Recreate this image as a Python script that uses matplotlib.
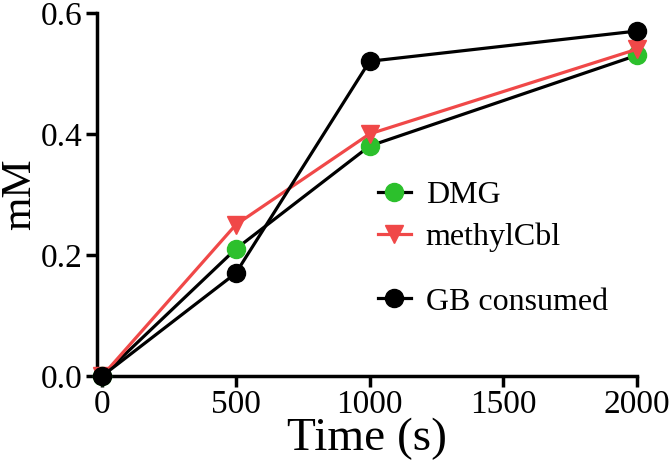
import matplotlib
matplotlib.use("Agg")
import matplotlib.pyplot as plt
from matplotlib.ticker import FormatStrFormatter

time_s = [0, 500, 1000, 2000]
dmg = [0.0, 0.21, 0.38, 0.53]
methylcbl = [0.0, 0.25, 0.40, 0.54]
gb_consumed = [0.0, 0.17, 0.52, 0.57]
x_ticks = [0, 500, 1000, 1500, 2000]
y_ticks = [0.0, 0.2, 0.4, 0.6]

plt.rcParams['font.family'] = ['Liberation Serif', 'DejaVu Serif']

fig = plt.figure(figsize=(6.72, 4.76), dpi=100)
ax = fig.add_axes([0.144, 0.21, 0.804, 0.763])

green = '#2CC02C'
red = '#F04848'

l1, = ax.plot(time_s, dmg, color='black', lw=2.3, marker='o', ms=13,
              mfc=green, mec=green, label='DMG', clip_on=False, zorder=3)
l2, = ax.plot(time_s, methylcbl, color=red, lw=2.3, marker='v', ms=13,
              mfc=red, mec=red, label='methylCbl', clip_on=False, zorder=4)
l3, = ax.plot(time_s, gb_consumed, color='black', lw=2.3, marker='o', ms=13,
              mfc='black', mec='black', label='GB consumed', clip_on=False, zorder=5)

ax.set_xlim(-20, 2000)
ax.set_ylim(0, 0.6)
ax.set_xticks(x_ticks)
ax.set_yticks(y_ticks)
ax.yaxis.set_major_formatter(FormatStrFormatter('%.1f'))

for s in ['top', 'right']:
    ax.spines[s].set_visible(False)
for s in ['left', 'bottom']:
    ax.spines[s].set_linewidth(2.5)
ax.tick_params(axis='both', direction='out', length=8, width=2.5,
               labelsize=24, pad=2)

ax.set_xlabel('Time (s)', fontsize=34, labelpad=-2)
ax.set_ylabel('mM', fontsize=31, labelpad=1)

leg_kw = dict(frameon=False, fontsize=23, handlelength=1.05,
              handletextpad=0.45, borderaxespad=0, borderpad=0)
leg1 = ax.legend(handles=[l1, l2], loc='center left', bbox_to_anchor=(0.52, 0.439),
                 labelspacing=0.4, **leg_kw)
ax.add_artist(leg1)
ax.legend(handles=[l3], loc='center left', bbox_to_anchor=(0.52, 0.204), **leg_kw)

fig.savefig('out.png', dpi=100)
